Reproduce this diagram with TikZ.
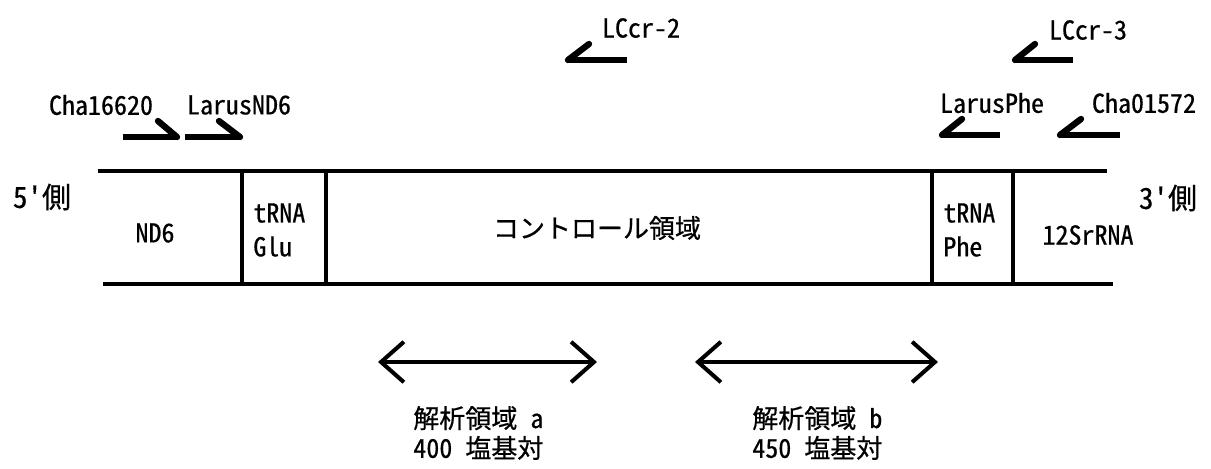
\documentclass[tikz,border=0pt]{standalone}
\usepackage{fontspec}
\newfontfamily\jp{Noto Sans CJK JP}[RawFeature=+hwid,FakeBold=0.6]
\usetikzlibrary{arrows.meta}
\tikzset{
  lbl/.style={font=\jp\fontsize{14.8}{19.3}\selectfont, inner sep=0pt, text=black},
  side/.style={font=\jp\fontsize{16.5}{19}\selectfont, inner sep=0pt, text=black},
  seqline/.style={line width=2.8pt, line cap=butt},
  primer/.style={line width=2.9pt, line cap=butt, line join=miter},
  barb/.style={line width=3.6pt, line cap=round},
  region/.style={line width=2.3pt, {Straight Barb[length=13pt,width=23pt,line width=2.3pt]}-{Straight Barb[length=13pt,width=23pt,line width=2.3pt]}}
}
\begin{document}
\begin{tikzpicture}[x=0.02cm,y=-0.02cm]
\useasboundingbox (0,0) rectangle (1211,468);
% sequence lines
\coordinate (tl) at (98,171);
\coordinate (tr) at (1107,171);
\coordinate (bl) at (103,284);
\coordinate (br) at (1113,284);
\draw[seqline] (tl) -- (tr);
\draw[seqline] (bl) -- (br);
\foreach \n/\x in {d1/242,d2/326,d3/932,d4/1013}{
  \coordinate (\n t) at (\x,171);
  \coordinate (\n b) at (\x,284);
  \draw[seqline] (\n t) -- (\n b);
}
% labels on sequence
\node[side] (p5) at (42,197) {5'側};
\node[side] (p3) at (1168,198) {3'側};
\node[lbl] (nd6) at (155,233) {ND6};
\node[lbl,anchor=west,align=left] (glu) at (253,230) {tRNA\\Glu};
\node[lbl] (ctrl) at (597,228) {コントロール領域};
\node[lbl,anchor=west,align=left] (phe) at (943,230) {tRNA\\Phe};
\node[lbl] (s12) at (1088,235) {12SrRNA};
% primer labels
\node[lbl] (cha1) at (101,105) {Cha16620};
\node[lbl] (lnd6) at (239,105) {LarusND6};
\node[lbl] (lc2) at (641,28) {LCcr-2};
\node[lbl] (lc3) at (1088,30) {LCcr-3};
\node[lbl] (lphe) at (992,103) {LarusPhe};
\node[lbl] (cha2) at (1144,103) {Cha01572};
% primer half-arrows
\foreach \s/\t/\b in {{123,137}/{177,137}/{158,121},{185,137}/{240,137}/{219,121},{627,60}/{568,60}/{589,44},{1073,60}/{1015,60}/{1035,44},{1000,135}/{942,135}/{962,119},{1120,135}/{1060,135}/{1081,119}}{
  \coordinate (ps) at (\s); \coordinate (pt) at (\t); \coordinate (pb) at (\b);
  \draw[primer] (ps) -- (pt);
  \draw[barb] (pt) -- (pb);
}
% analysis regions
\coordinate (ra1) at (378,362); \coordinate (ra2) at (597,362);
\coordinate (rb1) at (695,362); \coordinate (rb2) at (938,362);
\draw[region] (ra1) -- (ra2);
\draw[region] (rb1) -- (rb2);
\node[lbl,anchor=west,align=left,font=\jp\fontsize{14.8}{17}\selectfont] (ta) at (413,433) {解析領域 a\\400 塩基対};
\node[lbl,anchor=west,align=left,font=\jp\fontsize{14.8}{17}\selectfont] (tb) at (752,433) {解析領域 b\\450 塩基対};
\end{tikzpicture}
\end{document}
